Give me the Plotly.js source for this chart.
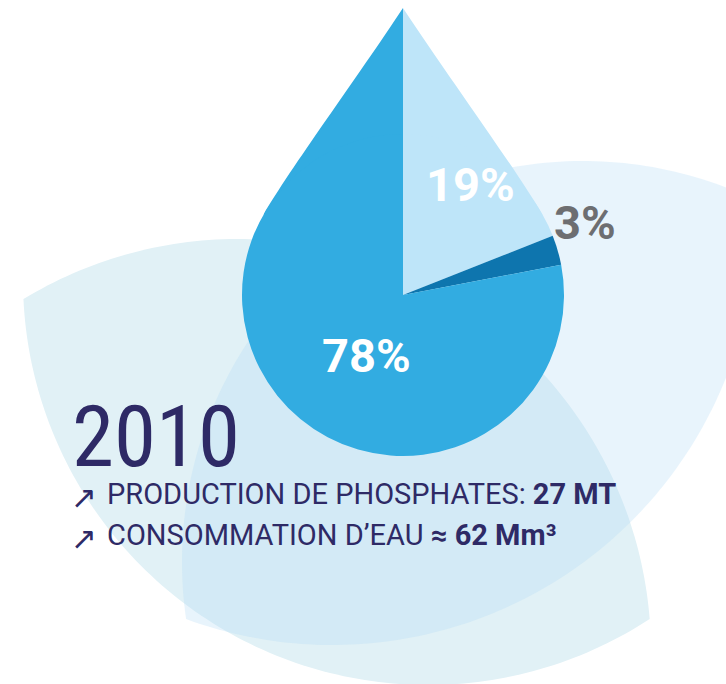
<!DOCTYPE html>
<html>
<head>
<meta charset="utf-8">
<script src="https://cdn.plot.ly/plotly-3.0.1.min.js"></script>
<style>
html,body{margin:0;padding:0;background:#fff;}
.annotation[data-index="3"] text{font-stretch:condensed;}
</style>
</head>
<body>
<div id="chart" style="width:726px;height:684px;"></div>
<script>
// ---- data ----
const categories = ['Segment 1', 'Segment 2', 'Segment 3'];
const shares = [19, 3, 78];
const sliceColors = ['#bee5f9', '#0e75ae', '#32ace1'];
const labelColors = ['#ffffff', '#6d6e71', '#ffffff'];
const yearLabel = '2010';
const infoLabels = ['PRODUCTION DE PHOSPHATES:', 'CONSOMMATION D\u2019EAU'];
const infoValues = ['27 MT', '\u2248 62 Mm\u00b3'];

// ---- layout helpers (pixel -> paper) ----
const W = 726, H = 684;
const px = x => x / W;
const py = y => 1 - y / H;
const C = [403, 295], R = 161;   // drop circle
const TIP = [403, 8];

function arcPts(c, r, from, to, toward, n) {
  const TAU = Math.PI * 2;
  const a0 = Math.atan2(from[1] - c[1], from[0] - c[0]);
  const a1 = Math.atan2(to[1] - c[1], to[0] - c[0]);
  const aT = Math.atan2(toward[1] - c[1], toward[0] - c[0]);
  const ccw = (((a1 - a0) % TAU) + TAU) % TAU;
  const t = (((aT - a0) % TAU) + TAU) % TAU;
  const sweep = t > ccw ? ccw - TAU : ccw;
  const pts = [];
  for (let i = 0; i <= n; i++) {
    const a = a0 + sweep * i / n;
    pts.push([c[0] + r * Math.cos(a), c[1] + r * Math.sin(a)]);
  }
  return pts;
}
function lensPath(c1, r1, c2, r2) {
  const dx = c2[0] - c1[0], dy = c2[1] - c1[1], d = Math.hypot(dx, dy);
  const a = (r1 * r1 - r2 * r2 + d * d) / (2 * d);
  const h = Math.sqrt(r1 * r1 - a * a);
  const mx = c1[0] + a * dx / d, my = c1[1] + a * dy / d;
  const p1 = [mx + h * dy / d, my - h * dx / d];
  const p2 = [mx - h * dy / d, my + h * dx / d];
  const pts = arcPts(c1, r1, p1, p2, c2, 120).concat(arcPts(c2, r2, p2, p1, c1, 120));
  return 'M' + pts.map(p => px(p[0]).toFixed(5) + ',' + py(p[1]).toFixed(5)).join(' L') + ' Z';
}
function tipPath(side) {
  // side = 1 left half (as defined), -1 mirrored to the right half
  const m = p => [C[0] + side * (p[0] - C[0]), p[1]];
  const P = m([263.6, 214.5]), B1 = m([288.6, 171.2]), B2 = m([359, 74.8]);
  const f = p => px(p[0]).toFixed(5) + ',' + py(p[1]).toFixed(5);
  return 'M' + f(TIP) + ' C' + f(B2) + ' ' + f(B1) + ' ' + f(P) + ' L' + f(C) + ' Z';
}

const shapes = [
  {type: 'path', xref: 'paper', yref: 'paper', layer: 'below',
   path: lensPath([238, 652], 413, [428, 280], 405),
   fillcolor: '#e1f1f6', line: {width: 0}},
  {type: 'path', xref: 'paper', yref: 'paper', layer: 'below',
   path: lensPath([583, 562], 401, [332, 221], 424),
   fillcolor: 'rgb(178,218,245)', opacity: 0.3, line: {width: 0}},
  {type: 'path', xref: 'paper', yref: 'paper', layer: 'below',
   path: tipPath(1), fillcolor: sliceColors[2], line: {width: 0}},
  {type: 'path', xref: 'paper', yref: 'paper', layer: 'below',
   path: tipPath(-1), fillcolor: sliceColors[0], line: {width: 0}}
];

const labelPos = [[470, 184], [585, 222], [367, 355]];
const annotations = shares.map((v, i) => ({
  text: v + '%', x: px(labelPos[i][0]), y: py(labelPos[i][1]),
  xref: 'paper', yref: 'paper', xanchor: 'center', yanchor: 'middle', showarrow: false,
  font: {family: 'Roboto, "DejaVu Sans"', size: 47, color: labelColors[i], weight: 700}
}));
annotations.push({
  text: yearLabel, x: px(70), y: py(437), xref: 'paper', yref: 'paper',
  xanchor: 'left', yanchor: 'middle', showarrow: false, height: 66,
  font: {family: '"Roboto Condensed", "Noto Sans", Roboto', size: 85, color: '#2e2a66'}
});
const lineY = [494, 535];
infoLabels.forEach((lab, i) => {
  annotations.push({
    text: '\u2197', x: px(84), y: py(lineY[i] + 3), xref: 'paper', yref: 'paper',
    xanchor: 'center', yanchor: 'middle', showarrow: false,
    font: {family: '"DejaVu Sans"', size: 31, color: '#2e2a66'}
  });
  annotations.push({
    text: lab + ' <b>' + infoValues[i] + '</b>', x: px(105), y: py(lineY[i]),
    xref: 'paper', yref: 'paper', xanchor: 'left', yanchor: 'middle', showarrow: false,
    font: {family: 'Roboto, "DejaVu Sans"', size: 29, color: '#2e2a66'}
  });
});

const trace = {
  type: 'pie',
  labels: categories,
  values: shares,
  sort: false,
  direction: 'clockwise',
  rotation: 0,
  marker: {colors: sliceColors, line: {width: 0}},
  textinfo: 'none',
  hoverinfo: 'skip',
  showlegend: false,
  domain: {x: [px(C[0] - R), px(C[0] + R)], y: [py(C[1] + R), py(C[1] - R)]}
};

const layout = {
  width: W, height: H,
  margin: {l: 0, r: 0, t: 0, b: 0},
  paper_bgcolor: '#ffffff',
  showlegend: false,
  shapes: shapes,
  annotations: annotations
};

Plotly.newPlot('chart', [trace], layout, {displayModeBar: false, staticPlot: true});
</script>
</body>
</html>
